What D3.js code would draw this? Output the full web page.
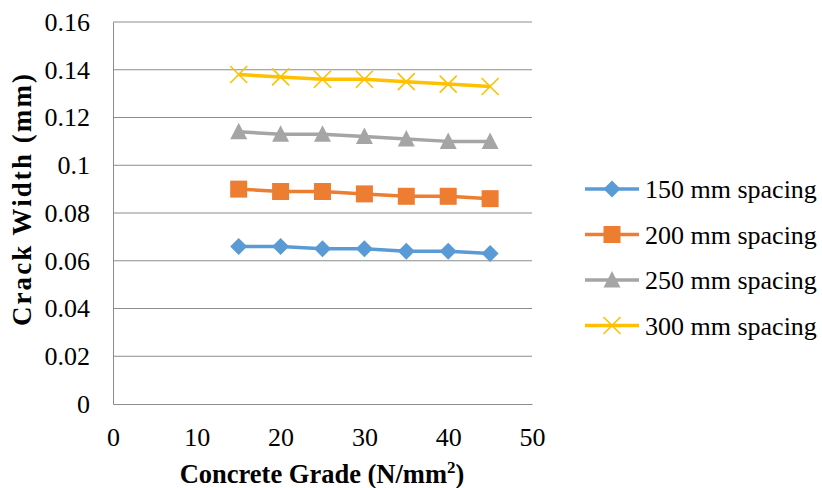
<!DOCTYPE html>
<html>
<head>
<meta charset="utf-8">
<script src="https://cdn.jsdelivr.net/npm/d3@7"></script>
<style>
  body { margin: 0; background: #fff; }
  svg text { font-family: "Liberation Serif", "Times New Roman", Times, serif !important; fill: #000; }
</style>
</head>
<body>
<svg id="chart" width="822" height="488"></svg>
<script>
// Concrete grades (N/mm²) along the x axis
const grades = [15, 20, 25, 30, 35, 40, 45];

// Crack width (mm) for each bar spacing
const spacing150 = [0.066, 0.066, 0.065, 0.065, 0.064, 0.064, 0.063];
const spacing200 = [0.090, 0.089, 0.089, 0.088, 0.087, 0.087, 0.086];
const spacing250 = [0.114, 0.113, 0.113, 0.112, 0.111, 0.110, 0.110];
const spacing300 = [0.138, 0.137, 0.136, 0.136, 0.135, 0.134, 0.133];

const seriesNames = ["150 mm spacing", "200 mm spacing", "250 mm spacing", "300 mm spacing"];
const xTicks = [0, 10, 20, 30, 40, 50];
const yTicks = [0, 0.02, 0.04, 0.06, 0.08, 0.1, 0.12, 0.14, 0.16];

const series = [
  { name: seriesNames[0], values: spacing150, color: "#5B9BD5", marker: "diamond" },
  { name: seriesNames[1], values: spacing200, color: "#ED7D31", marker: "square" },
  { name: seriesNames[2], values: spacing250, color: "#A5A5A5", marker: "triangle" },
  { name: seriesNames[3], values: spacing300, color: "#FFC000", marker: "cross" }
];

const svg = d3.select("#chart");
const plot = { left: 113, right: 532, top: 22, bottom: 404 };

const x = d3.scaleLinear().domain([0, 50]).range([plot.left, plot.right]);
const y = d3.scaleLinear().domain([0, 0.16]).range([plot.bottom, plot.top]);

// Horizontal gridlines
svg.append("g")
  .selectAll("line")
  .data(yTicks.filter(d => d > 0))
  .join("line")
  .attr("x1", plot.left).attr("x2", plot.right)
  .attr("y1", d => y(d)).attr("y2", d => y(d))
  .attr("stroke", "#8c8c8c").attr("stroke-width", 1);

// Y axis
const yAxis = svg.append("g")
  .attr("transform", `translate(${plot.left},0)`)
  .call(d3.axisLeft(y).tickValues(yTicks).tickSize(0).tickPadding(23)
    .tickFormat(d => String(+d.toFixed(2))));
yAxis.select(".domain").attr("stroke", "#8c8c8c");
yAxis.selectAll("text").attr("font-size", 26);

// X axis
const xAxis = svg.append("g")
  .attr("transform", `translate(0,${plot.bottom})`)
  .call(d3.axisBottom(x).tickValues(xTicks).tickSize(0).tickPadding(24));
xAxis.select(".domain").attr("stroke", "#8c8c8c");
xAxis.selectAll("text").attr("font-size", 26);

// Axis titles
const xTitle = svg.append("text")
  .attr("x", 322)
  .attr("y", 483)
  .attr("text-anchor", "middle")
  .attr("font-size", 26.5).attr("font-weight", "bold");
xTitle.append("tspan").text("Concrete Grade (N/mm");
xTitle.append("tspan").text("2").attr("font-size", 17).attr("dy", -10);
xTitle.append("tspan").text(")").attr("dy", 10);

svg.append("text")
  .attr("transform", `translate(31,200) rotate(-90)`)
  .attr("text-anchor", "middle")
  .attr("font-size", 27).attr("font-weight", "bold")
  .attr("textLength", 252)
  .text("Crack Width (mm)");

// Marker shapes
function drawMarker(g, type, color) {
  if (type === "diamond") {
    g.append("path").attr("d", "M0,-8.5L8.5,0L0,8.5L-8.5,0Z").attr("fill", color);
  } else if (type === "square") {
    g.append("rect").attr("x", -8.5).attr("y", -8.5).attr("width", 17).attr("height", 17).attr("fill", color);
  } else if (type === "triangle") {
    g.append("path").attr("d", "M0,-9L8.5,7.5L-8.5,7.5Z").attr("fill", color);
  } else if (type === "cross") {
    g.append("path").attr("d", "M-8.5,-8.5L8.5,8.5M-8.5,8.5L8.5,-8.5")
      .attr("stroke", color).attr("stroke-width", 1.6).attr("fill", "none");
  }
}

const line = d3.line()
  .x((d, i) => x(grades[i]))
  .y(d => y(d));

series.forEach(s => {
  const g = svg.append("g");
  g.append("path")
    .datum(s.values)
    .attr("d", line)
    .attr("fill", "none")
    .attr("stroke", s.color)
    .attr("stroke-width", 3.5)
    .attr("stroke-linejoin", "round");
  s.values.forEach((v, i) => {
    const m = g.append("g").attr("transform", `translate(${x(grades[i])},${y(v)})`);
    drawMarker(m, s.marker, s.color);
  });
});

// Legend
const legend = svg.append("g");
series.forEach((s, i) => {
  const cy = 189 + i * 45.5;
  const row = legend.append("g");
  row.append("line")
    .attr("x1", 585).attr("x2", 639)
    .attr("y1", cy).attr("y2", cy)
    .attr("stroke", s.color).attr("stroke-width", 3.5);
  const m = row.append("g").attr("transform", `translate(612,${cy})`);
  drawMarker(m, s.marker, s.color);
  row.append("text")
    .attr("x", 645).attr("y", cy + 9)
    .attr("font-size", 26)
    .text(s.name);
});
</script>
</body>
</html>
